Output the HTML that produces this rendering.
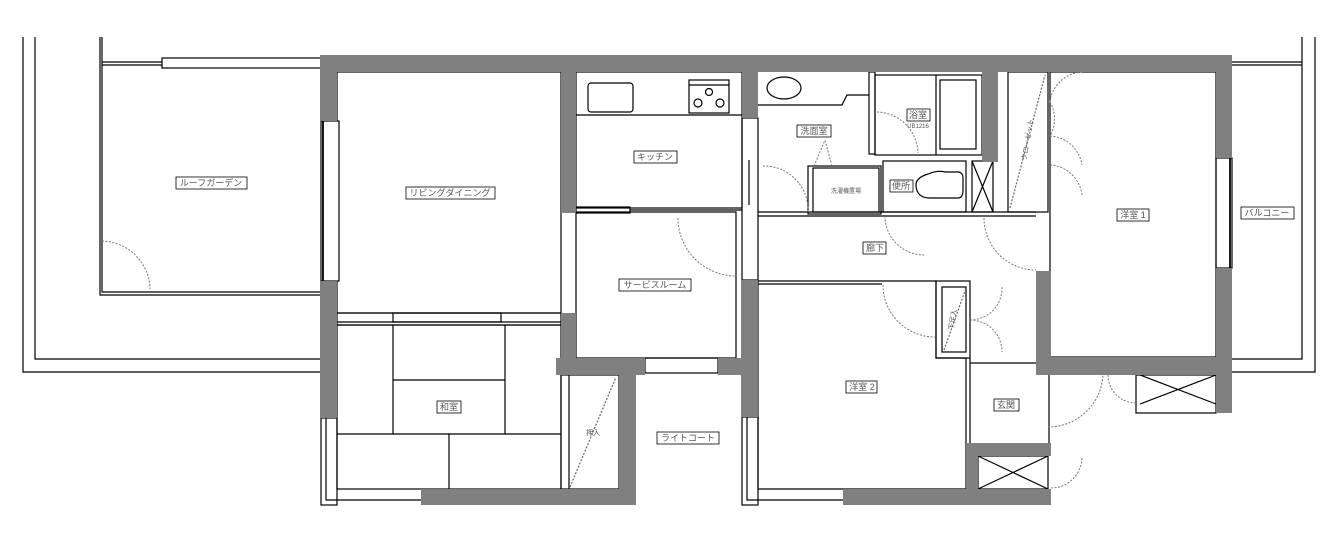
<!DOCTYPE html>
<html><head><meta charset="utf-8"><style>
html,body{margin:0;padding:0;background:#fff;}
svg{display:block;}
text{font-family:"Liberation Sans","Noto Sans CJK JP",sans-serif;font-size:9px;fill:#555;}
</style></head><body>
<svg width="1339" height="537" viewBox="0 0 1339 537" xmlns="http://www.w3.org/2000/svg">
<g fill="none" stroke="#000" stroke-width="1.2">
<polyline points="23,37 23,372 320,372"/>
<polyline points="35,37 35,359 320,359"/>
<polyline points="100,37 100,295 320,295"/>
<polyline points="102,37 102,292 320,292"/>
<rect x="162" y="58" width="159" height="10" fill="#fff"/>
<line x1="102" y1="62" x2="162" y2="62"/><line x1="102" y1="65" x2="162" y2="65"/>
<polyline points="1315,37 1315,372 1232,372"/>
<polyline points="1302,37 1302,359 1232,359"/>
<line x1="1232" y1="62" x2="1302" y2="62"/><line x1="1232" y1="65" x2="1302" y2="65"/>
</g>
<path d="M102,241 A49,49 0 0 1 150,289" fill="none" stroke="#777" stroke-dasharray="2,1.5"/>

<g fill="none" stroke="#000" stroke-width="1.2">
<rect x="337" y="72" width="224" height="241"/>
<rect x="576" y="72" width="166" height="136"/>
<rect x="576" y="212" width="160" height="146"/>
<rect x="337" y="325" width="224" height="164"/>
<line x1="393" y1="325" x2="393" y2="434"/><line x1="505" y1="325" x2="505" y2="434"/>
<line x1="393" y1="380" x2="505" y2="380"/><line x1="337" y1="434" x2="561" y2="434"/>
<line x1="449" y1="434" x2="449" y2="489"/>
<rect x="337" y="313" width="224" height="12"/>
<rect x="393" y="313" width="108" height="9"/>
<line x1="337" y1="322" x2="561" y2="322"/>
<rect x="588" y="83" width="45" height="29" rx="3"/>
<rect x="689" y="80" width="40" height="33"/>
<line x1="689" y1="85" x2="729" y2="85"/>
<circle cx="709" cy="92" r="3.5"/><circle cx="698" cy="103" r="4"/><circle cx="720" cy="103" r="4"/>
<line x1="576" y1="115" x2="742" y2="115"/>
<rect x="576" y="207" width="54" height="6"/>
<line x1="630" y1="210" x2="742" y2="210"/>
<rect x="321" y="121" width="18" height="160" fill="#fff"/>
<line x1="323" y1="121" x2="323" y2="281" stroke-width="1.8"/>
<rect x="742" y="118" width="16" height="162"/>
<line x1="749" y1="160" x2="749" y2="205"/>
<path d="M758,105 H842 L847,95 H869"/>
<ellipse cx="784" cy="88" rx="17" ry="11"/>
<rect x="869" y="72" width="6" height="82"/>
<rect x="875" y="75" width="107" height="80"/>
<rect x="940" y="80" width="36" height="69"/>
<line x1="936" y1="75" x2="936" y2="155"/>
<rect x="808" y="166" width="73" height="48"/>
<rect x="813" y="168" width="66" height="44"/>
<rect x="883" y="161" width="83" height="51"/>
<path d="M928,174 Q915,178 916,186 Q917,198 930,198 H958 Q963,198 963,190 V178 Q963,171 955,172 H945 Q938,170 928,174 Z"/>
<rect x="972" y="161" width="21" height="51"/>
<line x1="972" y1="161" x2="993" y2="212"/><line x1="993" y1="161" x2="972" y2="212"/>
<rect x="1008" y="72" width="40" height="140"/>
<line x1="1010" y1="208" x2="1045" y2="75" stroke="#666" stroke-dasharray="2,1.5"/>
<line x1="758" y1="212" x2="1036" y2="212"/><line x1="758" y1="216" x2="1036" y2="216"/>
<rect x="1050" y="72" width="166" height="285"/>
<rect x="1216" y="158" width="16" height="110"/>
<line x1="1230" y1="158" x2="1230" y2="268" stroke-width="1.8"/>
<polyline points="758,281 936,281 936,358 966,358 966,489 758,489 758,281"/>
<line x1="758" y1="284" x2="882" y2="284"/>
<rect x="936" y="281" width="34" height="77"/>
<rect x="942" y="287" width="24" height="65"/>
<line x1="944" y1="350" x2="966" y2="288" stroke="#666" stroke-dasharray="2,1.5"/>
<polyline points="970,358 970,443"/>
<line x1="1049" y1="375" x2="1049" y2="443"/>
<line x1="970" y1="363" x2="1036" y2="363"/>
<rect x="978" y="456" width="70" height="33"/>
<line x1="978" y1="456" x2="1048" y2="489"/><line x1="1048" y1="456" x2="978" y2="489"/>
<rect x="1136" y="375" width="80" height="38"/>
<line x1="1140" y1="375" x2="1216" y2="404"/><line x1="1216" y1="375" x2="1140" y2="404"/>
<rect x="561" y="375" width="58" height="114"/>
<line x1="569" y1="375" x2="569" y2="489"/>
<line x1="570" y1="487" x2="616" y2="377" stroke="#666" stroke-dasharray="2,1.5"/>
<rect x="645" y="358" width="73" height="15"/>
<rect x="321" y="418" width="16" height="87"/>
<polyline points="326,418 326,500 421,500"/>
<rect x="742" y="417" width="16" height="88"/>
<polyline points="747,417 747,500 843,500"/>
</g>
<g fill="none" stroke="#777" stroke-dasharray="2,1.5">
<path d="M678,218 A58,58 0 0 0 736,276"/>
<path d="M763,166 A44,44 0 0 1 808,212"/>
<path d="M877,112 A42,42 0 0 1 918,153"/>
<path d="M885,216 A39,39 0 0 0 924,255"/>
<path d="M984,218 A52,52 0 0 0 1036,270"/>
<path d="M883,285 A52,52 0 0 0 935,337"/>
<path d="M1050,102 A34,34 0 0 1 1050,136 M1050,102 A34,34 0 0 1 1082,72"/>
<path d="M1050,165 A34,34 0 0 1 1082,195 M1050,136 A34,34 0 0 1 1082,165"/>
<path d="M970,320 A32,32 0 0 0 1002,287 M970,320 A32,32 0 0 1 1002,352"/>
<path d="M1048,427 A55,55 0 0 0 1103,375 M1136,403 A28,28 0 0 1 1108,375"/>
<path d="M1051,488 A31,31 0 0 0 1082,457"/>
<line x1="814" y1="166" x2="825" y2="140"/><line x1="832" y1="166" x2="825" y2="140"/>
</g>
<g fill="#808080">
<rect x="320" y="55" width="912" height="17"/>
<rect x="320" y="55" width="17" height="66"/>
<rect x="320" y="281" width="17" height="137"/>
<rect x="561" y="72" width="15" height="141"/>
<rect x="561" y="313" width="15" height="45"/>
<rect x="556" y="358" width="89" height="17"/>
<rect x="718" y="358" width="40" height="17"/>
<rect x="742" y="72" width="16" height="46"/>
<rect x="741" y="280" width="17" height="137"/>
<rect x="619" y="375" width="17" height="130"/>
<rect x="421" y="489" width="215" height="16"/>
<rect x="843" y="489" width="208" height="16"/>
<rect x="966" y="443" width="12" height="62"/>
<rect x="966" y="443" width="85" height="13"/>
<rect x="982" y="72" width="16" height="90"/>
<rect x="1216" y="55" width="16" height="103"/>
<rect x="1216" y="268" width="16" height="145"/>
<rect x="1036" y="357" width="196" height="18"/>
<rect x="1036" y="271" width="15" height="104"/>
</g>
<g fill="#fff" stroke="#000" stroke-width="0.8">
<rect x="176" y="177" width="71" height="12"/>
<rect x="406" y="187" width="89" height="12"/>
<rect x="634" y="151" width="43" height="12"/>
<rect x="797" y="125" width="34" height="12"/>
<rect x="907" y="109" width="23" height="12"/>
<rect x="890" y="180" width="23" height="12"/>
<rect x="863" y="242" width="23" height="12"/>
<rect x="619" y="279" width="72" height="12"/>
<rect x="1117" y="209" width="32" height="12"/>
<rect x="1241" y="207" width="53" height="12"/>
<rect x="846" y="381" width="31" height="12"/>
<rect x="994" y="399" width="25" height="12"/>
<rect x="437" y="401" width="24" height="12"/>
<rect x="657" y="432" width="62" height="12"/>
</g>
<text x="211" y="186" text-anchor="middle">ルーフガーデン</text>
<text x="450" y="196" text-anchor="middle">リビングダイニング</text>
<text x="655" y="160" text-anchor="middle">キッチン</text>
<text x="814" y="134" text-anchor="middle">洗面室</text>
<text x="918" y="118" text-anchor="middle">浴室</text>
<text x="918" y="128" text-anchor="middle" style="font-size:6px">UB1216</text>
<text x="901" y="189" text-anchor="middle">便所</text>
<text x="846" y="193" text-anchor="middle" style="font-size:6px">洗濯機置場</text>
<text x="875" y="251" text-anchor="middle">廊下</text>
<text x="655" y="288" text-anchor="middle">サービスルーム</text>
<text x="1133" y="218" text-anchor="middle">洋室 1</text>
<text x="1267" y="216" text-anchor="middle">バルコニー</text>
<text x="862" y="390" text-anchor="middle">洋室 2</text>
<text x="1006" y="408" text-anchor="middle">玄関</text>
<text x="449" y="410" text-anchor="middle">和室</text>
<text x="688" y="441" text-anchor="middle">ライトコート</text>
<text x="593" y="435" text-anchor="middle" style="font-size:7px">押入</text>
<text x="1030" y="140" text-anchor="middle" style="font-size:7px" transform="rotate(-80 1030 140)">クローゼット</text>
<text x="955" y="320" text-anchor="middle" style="font-size:7px" transform="rotate(-80 955 320)">下足入</text>
</svg>
</body></html>
